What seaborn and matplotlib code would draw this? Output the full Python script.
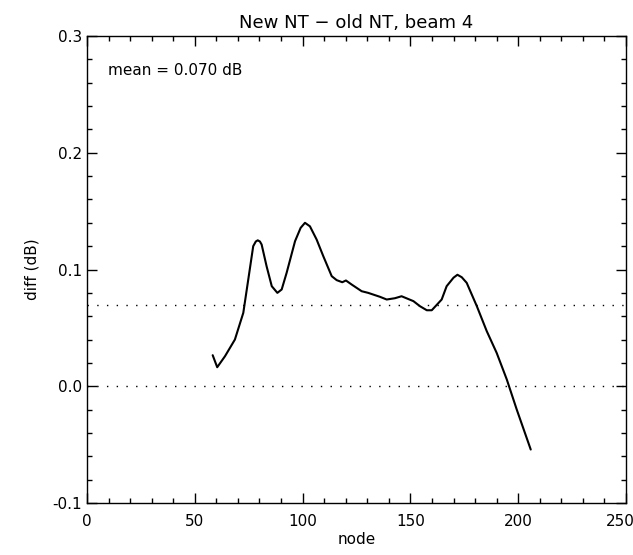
import matplotlib
matplotlib.use("Agg")
import matplotlib.pyplot as plt
import matplotlib.transforms as mtransforms
import numpy as np
import pandas as pd
import seaborn as sns
from matplotlib.ticker import MultipleLocator

# values
node = [58.3, 60.4, 64.0, 68.6, 72.5, 74.8, 77.1, 78.3, 79.2, 80.2, 81.0, 83.3, 85.7,
        88.3, 90.3, 92.6, 96.5, 99.1, 101.1, 103.4, 106.5, 109.6, 113.5, 115.8, 118.4,
        120.1, 122.7, 127.4, 130.4, 135.9, 139.0, 142.8, 145.9, 151.4, 154.4, 157.6,
        159.9, 164.5, 166.8, 170.0, 171.8, 173.8, 176.1, 180.8, 185.4, 190.0, 194.7,
        199.3, 205.8]
diff = [0.0266, 0.0163, 0.0257, 0.0400, 0.0629, 0.0914, 0.1200, 0.1240, 0.1250, 0.1240,
        0.1214, 0.1028, 0.0857, 0.0800, 0.0829, 0.0972, 0.1243, 0.1357, 0.1400, 0.1370,
        0.1257, 0.1114, 0.0943, 0.0909, 0.0891, 0.0906, 0.0872, 0.0814, 0.0800, 0.0766,
        0.0743, 0.0754, 0.0771, 0.0729, 0.0686, 0.0651, 0.0651, 0.0743, 0.0857, 0.0930,
        0.0955, 0.0934, 0.0886, 0.0686, 0.0472, 0.0286, 0.0058, -0.0199, -0.0542]
mean_diff = 0.070
x_ticks = [0, 50, 100, 150, 200, 250]

df = pd.DataFrame({"node": node, "diff": diff})

sns.set_style("ticks")
plt.rcParams["font.family"] = ["DejaVu Sans"]
plt.rcParams["text.color"] = "black"
plt.rcParams["axes.labelcolor"] = "black"

fig = plt.figure(figsize=(6.33, 5.55), dpi=100)
ax = fig.add_axes([0.1374, 0.0937, 0.8516, 0.8414])

sns.lineplot(data=df, x="node", y="diff", ax=ax, color="black", linewidth=1.5)
ax.axhline(mean_diff, color="black", linestyle=(0, (1, 6)), linewidth=1)
ax.axhline(0.0, color="black", linestyle=(0, (1, 6)), linewidth=1)

ax.set_xlim(0, 250)
ax.set_ylim(-0.1, 0.3)
ax.set_xticks(x_ticks, [str(t) for t in x_ticks])
ax.xaxis.set_minor_locator(MultipleLocator(10))
ax.yaxis.set_major_locator(MultipleLocator(0.1))
ax.yaxis.set_minor_locator(MultipleLocator(0.02))
ax.yaxis.set_major_formatter(matplotlib.ticker.FormatStrFormatter("%.1f"))
ax.tick_params(which="both", direction="in", top=True, right=True, colors="black",
               labelsize=11)
ax.tick_params(which="major", length=7, width=1)
ax.tick_params(which="minor", length=3.5, width=1)
ax.tick_params(axis="x", pad=8)
for s in ax.spines.values():
    s.set_linewidth(1)
    s.set_color("black")

# last x label sits flush against the figure edge, as in the original
last = ax.get_xticklabels()[-1]
last.set_transform(last.get_transform() + mtransforms.ScaledTranslation(-6 / 100, 0, fig.dpi_scale_trans))

ax.set_xlabel("node", fontsize=11, labelpad=2)
ax.set_ylabel("diff (dB)", fontsize=11, labelpad=9)
ax.set_title("New NT \u2212 old NT, beam 4", fontsize=13, pad=6, color="black")
ax.text(0.039, 0.927, f"mean = {mean_diff:.3f} dB", transform=ax.transAxes,
        fontsize=11, va="center", ha="left")

fig.savefig("out.png", dpi=100)
